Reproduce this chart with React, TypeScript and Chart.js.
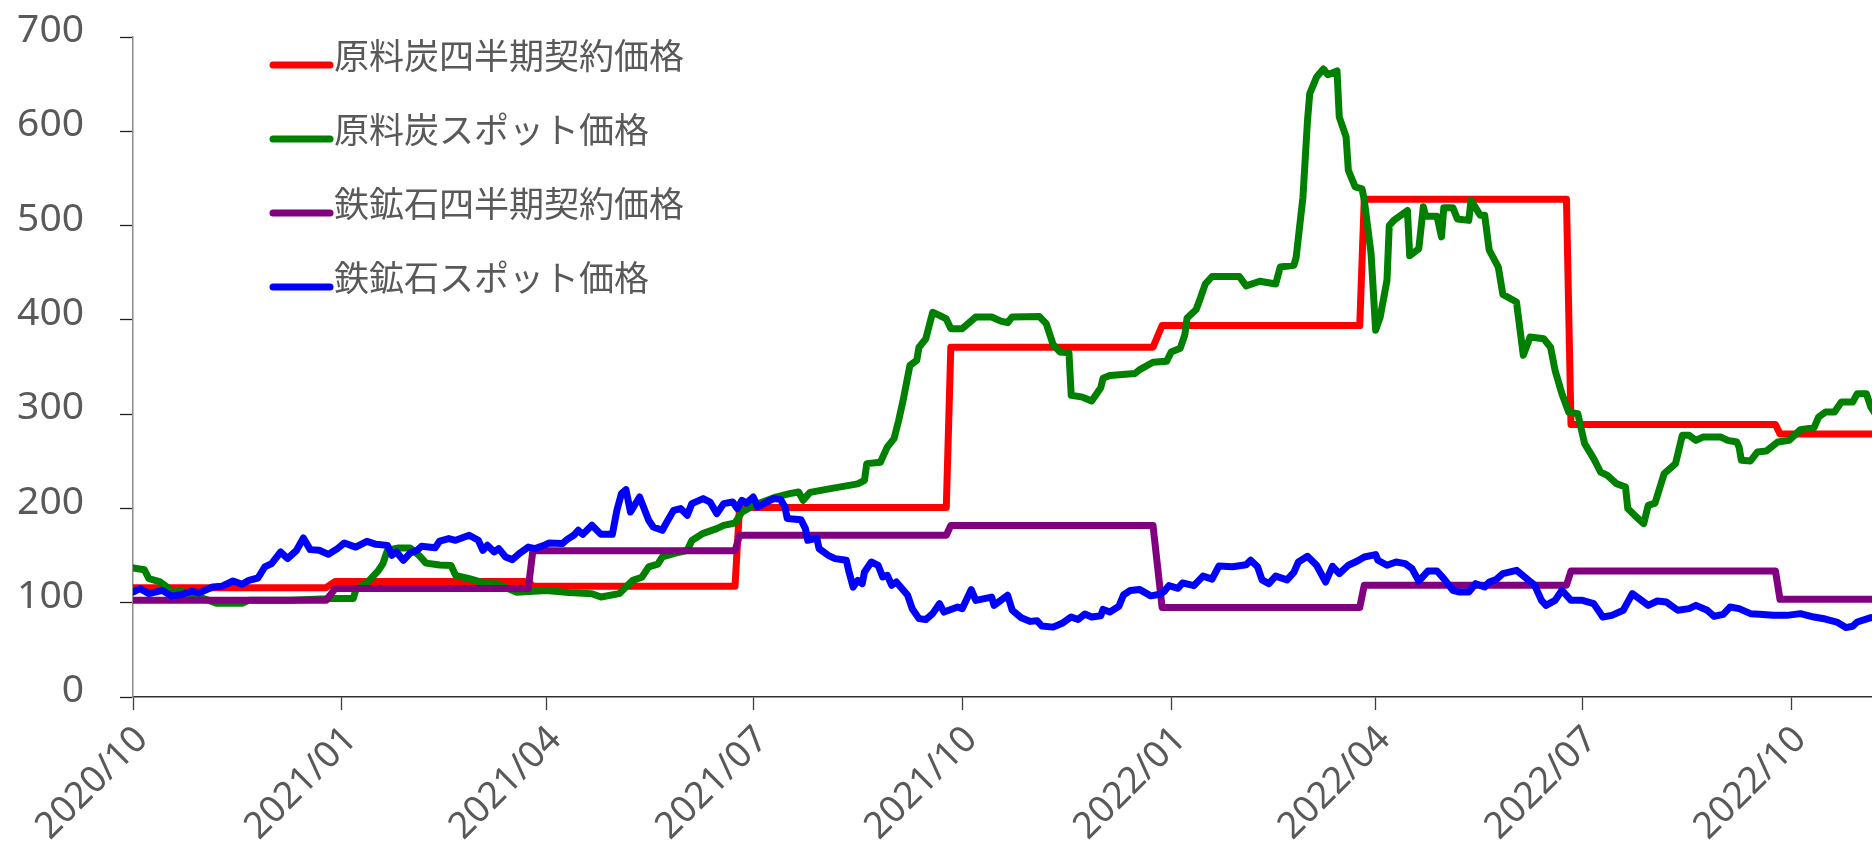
import React, { useEffect, useRef } from 'react';
import { Chart, registerables } from 'chart.js';

Chart.register(...registerables);

// ---------- data ----------
const seriesNames = ['原料炭四半期契約価格', '原料炭スポット価格', '鉄鉱石四半期契約価格', '鉄鉱石スポット価格'];
const seriesColors = ['#ff0000', '#008000', '#800080', '#0000ff'];

const xTickLabels = ['2020/10', '2021/01', '2021/04', '2021/07', '2021/10', '2022/01', '2022/04', '2022/07', '2022/10'];
const yTickValues = [0, 100, 200, 300, 400, 500, 600, 700];

const axisStart = '2020-10-01';
const axisEnd = '2022-11-05';

// quarterly contract prices: first and last day each price is plotted
const quarterStart = ['2020-10-01', '2020-12-29', '2021-03-26', '2021-06-25', '2021-09-26', '2021-12-28', '2022-03-27', '2022-06-26', '2022-09-26'];
const quarterEnd = ['2020-12-25', '2021-03-24', '2021-06-23', '2021-09-24', '2021-12-24', '2022-03-25', '2022-06-24', '2022-09-24', '2022-11-07'];
const cokingContract = [116, 122.5, 117.5, 201, 371, 394, 528, 289, 279];
const ironContract = [102.5, 115, 155, 171.5, 182, 95, 118.5, 133.6, 103.6];

// coking coal spot price
const cokingSpot: [string, number][] = [
  ['2020-10-01', 137], ['2020-10-06', 135], ['2020-10-08', 125.5], ['2020-10-13', 122], ['2020-10-16', 116.6],
  ['2020-10-18', 110], ['2020-10-21', 113], ['2020-10-28', 108], ['2020-11-07', 99.3], ['2020-11-18', 99.3],
  ['2020-11-21', 102.5], ['2020-12-09', 102.5], ['2020-12-23', 104], ['2020-12-30', 104.6], ['2021-01-06', 104.6],
  ['2021-01-07', 113], ['2021-01-13', 123.6], ['2021-01-17', 134], ['2021-01-19', 141.5], ['2021-01-21', 155.6],
  ['2021-01-26', 158], ['2021-01-31', 158], ['2021-02-04', 150], ['2021-02-07', 142], ['2021-02-13', 140],
  ['2021-02-18', 139.6], ['2021-02-20', 129], ['2021-02-26', 125.5], ['2021-03-06', 120], ['2021-03-10', 120],
  ['2021-03-19', 111], ['2021-04-01', 113], ['2021-04-11', 110.7], ['2021-04-21', 109.6], ['2021-04-25', 106],
  ['2021-05-03', 109.6], ['2021-05-09', 123.7], ['2021-05-13', 127], ['2021-05-16', 138], ['2021-05-20', 141],
  ['2021-05-22', 148.5], ['2021-05-27', 152], ['2021-06-02', 155.6], ['2021-06-04', 166], ['2021-06-09', 173.6],
  ['2021-06-15', 178.6], ['2021-06-18', 182], ['2021-06-23', 184.5], ['2021-06-26', 196], ['2021-07-01', 203],
  ['2021-07-11', 212], ['2021-07-17', 215.7], ['2021-07-21', 217.4], ['2021-07-23', 208.6], ['2021-07-26', 217],
  ['2021-08-04', 221], ['2021-08-16', 226], ['2021-08-19', 229.8], ['2021-08-20', 247.5], ['2021-08-26', 249],
  ['2021-08-29', 265], ['2021-09-01', 274], ['2021-09-03', 293], ['2021-09-05', 314.6], ['2021-09-08', 351.7],
  ['2021-09-11', 357], ['2021-09-12', 371], ['2021-09-15', 380], ['2021-09-18', 408], ['2021-09-21', 404.8],
  ['2021-09-24', 401], ['2021-09-26', 390.7], ['2021-10-01', 390.7], ['2021-10-07', 403], ['2021-10-14', 403],
  ['2021-10-18', 398.7], ['2021-10-21', 397], ['2021-10-23', 403], ['2021-11-04', 403.5], ['2021-11-07', 396],
  ['2021-11-10', 374], ['2021-11-13', 366], ['2021-11-17', 365], ['2021-11-18', 320], ['2021-11-23', 318],
  ['2021-11-27', 314], ['2021-12-01', 328], ['2021-12-02', 338], ['2021-12-05', 341], ['2021-12-16', 343],
  ['2021-12-18', 347], ['2021-12-24', 355], ['2021-12-30', 356], ['2022-01-01', 366], ['2022-01-05', 370],
  ['2022-01-07', 384], ['2022-01-08', 402], ['2022-01-12', 411], ['2022-01-14', 424], ['2022-01-16', 438],
  ['2022-01-19', 446], ['2022-01-31', 446], ['2022-02-03', 436], ['2022-02-09', 441], ['2022-02-16', 438],
  ['2022-02-18', 456], ['2022-02-24', 458], ['2022-02-25', 466], ['2022-02-28', 530], ['2022-03-02', 611],
  ['2022-03-03', 640], ['2022-03-06', 657.5], ['2022-03-09', 666], ['2022-03-11', 660], ['2022-03-15', 664],
  ['2022-03-16', 615], ['2022-03-19', 594], ['2022-03-20', 558.5], ['2022-03-23', 541], ['2022-03-26', 539],
  ['2022-03-27', 527], ['2022-03-30', 470], ['2022-04-01', 389], ['2022-04-03', 403], ['2022-04-06', 442],
  ['2022-04-07', 500], ['2022-04-09', 505.5], ['2022-04-15', 516], ['2022-04-16', 468], ['2022-04-20', 475.5],
  ['2022-04-22', 520], ['2022-04-23', 510], ['2022-04-28', 510], ['2022-04-30', 488], ['2022-05-01', 519],
  ['2022-05-05', 519], ['2022-05-07', 507], ['2022-05-12', 505.5], ['2022-05-13', 526.7], ['2022-05-17', 511],
  ['2022-05-19', 511], ['2022-05-21', 474], ['2022-05-25', 456], ['2022-05-27', 427], ['2022-06-02', 419],
  ['2022-06-05', 362.4], ['2022-06-08', 381.8], ['2022-06-14', 380], ['2022-06-17', 371], ['2022-06-19', 346.4],
  ['2022-06-22', 321.7], ['2022-06-25', 302], ['2022-06-29', 300.5], ['2022-07-02', 268.7], ['2022-07-06', 252.8],
  ['2022-07-09', 238.6], ['2022-07-12', 235], ['2022-07-16', 226.3], ['2022-07-20', 222.7], ['2022-07-21', 199.8],
  ['2022-07-24', 192.7], ['2022-07-28', 183.9], ['2022-07-30', 203.3], ['2022-08-02', 205.7], ['2022-08-06', 236.9],
  ['2022-08-11', 247.5], ['2022-08-14', 277.5], ['2022-08-17', 277.5], ['2022-08-20', 272.2], ['2022-08-23', 275.7],
  ['2022-08-31', 275.7], ['2022-09-03', 272.2], ['2022-09-07', 270.4], ['2022-09-08', 265], ['2022-09-09', 251],
  ['2022-09-13', 250.3], ['2022-09-16', 259.8], ['2022-09-20', 260.9], ['2022-09-25', 270.4], ['2022-09-30', 272.2],
  ['2022-10-05', 283.6], ['2022-10-11', 285.7], ['2022-10-13', 297], ['2022-10-16', 302.2], ['2022-10-20', 302.2],
  ['2022-10-23', 312.8], ['2022-10-28', 312.8], ['2022-10-30', 321.7], ['2022-11-03', 321.7], ['2022-11-05', 307.5],
  ['2022-11-07', 300],
];

// iron ore spot price
const ironSpot: [string, number][] = [
  ['2020-10-01', 111.3], ['2020-10-04', 115], ['2020-10-08', 109.6], ['2020-10-14', 113], ['2020-10-18', 107],
  ['2020-10-23', 108.9], ['2020-10-27', 112.4], ['2020-10-30', 110.3], ['2020-11-05', 116.6], ['2020-11-09', 117.4],
  ['2020-11-14', 123], ['2020-11-18', 119.5], ['2020-11-21', 123.7], ['2020-11-25', 126.2], ['2020-11-28', 137.9],
  ['2020-12-01', 141.5], ['2020-12-05', 153.8], ['2020-12-08', 146.8], ['2020-12-12', 155.6], ['2020-12-15', 168.6],
  ['2020-12-18', 156.3], ['2020-12-22', 155.6], ['2020-12-26', 151.3], ['2020-12-30', 157.4], ['2021-01-02', 163.3],
  ['2021-01-07', 159], ['2021-01-12', 165.1], ['2021-01-16', 161.9], ['2021-01-21', 160.8], ['2021-01-23', 150.3],
  ['2021-01-25', 153.8], ['2021-01-28', 145], ['2021-01-31', 152.7], ['2021-02-03', 155.6], ['2021-02-05', 159.8],
  ['2021-02-11', 158.4], ['2021-02-13', 165.4], ['2021-02-17', 168], ['2021-02-20', 166.2], ['2021-02-26', 171.5],
  ['2021-03-02', 166.2], ['2021-03-04', 155.6], ['2021-03-06', 160.9], ['2021-03-09', 153.8], ['2021-03-11', 157.4],
  ['2021-03-14', 148.5], ['2021-03-17', 145.7], ['2021-03-20', 152.1], ['2021-03-24', 159], ['2021-03-27', 157.4],
  ['2021-03-31', 160.9], ['2021-04-02', 163.3], ['2021-04-08', 162.7], ['2021-04-10', 166.9], ['2021-04-13', 171.5],
  ['2021-04-15', 176.8], ['2021-04-17', 172.5], ['2021-04-21', 182.1], ['2021-04-25', 172.5], ['2021-04-30', 172.5],
  ['2021-05-02', 198], ['2021-05-04', 215.7], ['2021-05-06', 219.9], ['2021-05-08', 196.2], ['2021-05-12', 212.1],
  ['2021-05-16', 187.4], ['2021-05-18', 180.3], ['2021-05-22', 176.8], ['2021-05-24', 185.6], ['2021-05-27', 198],
  ['2021-05-30', 199.8], ['2021-06-02', 192.7], ['2021-06-04', 205.1], ['2021-06-09', 210.4], ['2021-06-12', 206.8],
  ['2021-06-15', 194.5], ['2021-06-18', 205.1], ['2021-06-22', 206.8], ['2021-06-24', 199.8], ['2021-06-26', 208.6],
  ['2021-06-28', 205.7], ['2021-07-01', 212.1], ['2021-07-03', 201.5], ['2021-07-07', 206.8], ['2021-07-10', 210.4],
  ['2021-07-13', 209.6], ['2021-07-15', 201.5], ['2021-07-16', 189.2], ['2021-07-22', 188.1], ['2021-07-24', 178.6],
  ['2021-07-25', 166.2], ['2021-07-29', 168.6], ['2021-07-30', 157.4], ['2021-08-03', 150.3], ['2021-08-06', 146.8],
  ['2021-08-11', 145], ['2021-08-12', 134.4], ['2021-08-14', 116.6], ['2021-08-16', 123.7], ['2021-08-18', 120.2],
  ['2021-08-19', 132.6], ['2021-08-22', 143.2], ['2021-08-25', 139.7], ['2021-08-27', 127.3], ['2021-08-29', 129.1],
  ['2021-08-31', 118.5], ['2021-09-02', 122], ['2021-09-07', 107.9], ['2021-09-09', 93.7], ['2021-09-12', 83.1],
  ['2021-09-15', 82.1], ['2021-09-18', 88.4], ['2021-09-21', 99], ['2021-09-23', 90.1], ['2021-09-29', 95.4],
  ['2021-10-01', 93.7], ['2021-10-05', 113.9], ['2021-10-07', 102.5], ['2021-10-14', 106], ['2021-10-15', 97.2],
  ['2021-10-18', 102.5], ['2021-10-21', 107.9], ['2021-10-23', 92.2], ['2021-10-27', 84.1], ['2021-10-31', 80.2],
  ['2021-11-03', 80.9], ['2021-11-05', 75.3], ['2021-11-10', 74.1], ['2021-11-14', 78.2], ['2021-11-18', 84.9],
  ['2021-11-21', 82.2], ['2021-11-24', 88.1], ['2021-11-27', 84.9], ['2021-12-01', 86.1], ['2021-12-02', 92.9],
  ['2021-12-05', 90.1], ['2021-12-09', 96.2], ['2021-12-11', 108.2], ['2021-12-14', 113], ['2021-12-18', 114.1],
  ['2021-12-23', 107.3], ['2021-12-27', 108.9], ['2021-12-29', 112.1], ['2021-12-31', 118.1], ['2022-01-04', 115.3],
  ['2022-01-06', 121], ['2022-01-11', 118.1], ['2022-01-15', 128.2], ['2022-01-19', 125], ['2022-01-22', 138.9],
  ['2022-01-28', 138.2], ['2022-02-03', 140.2], ['2022-02-05', 145], ['2022-02-08', 138.2], ['2022-02-10', 124.2],
  ['2022-02-13', 120.2], ['2022-02-16', 128.2], ['2022-02-21', 124.2], ['2022-02-24', 132.2], ['2022-02-26', 143.2],
  ['2022-03-02', 149.2], ['2022-03-06', 139.7], ['2022-03-10', 122], ['2022-03-13', 138.6], ['2022-03-16', 130.9],
  ['2022-03-20', 139.7], ['2022-03-24', 144.2], ['2022-03-27', 148.5], ['2022-04-01', 151], ['2022-04-02', 145],
  ['2022-04-06', 139.7], ['2022-04-10', 143.2], ['2022-04-14', 141.5], ['2022-04-17', 136.2], ['2022-04-20', 123],
  ['2022-04-24', 133.6], ['2022-04-28', 133.6], ['2022-05-01', 125.5], ['2022-05-05', 113.2], ['2022-05-08', 111.3],
  ['2022-05-12', 111.3], ['2022-05-15', 120.2], ['2022-05-19', 116.6], ['2022-05-21', 122], ['2022-05-24', 124.5],
  ['2022-05-27', 130.9], ['2022-06-02', 134.4], ['2022-06-07', 124.5], ['2022-06-10', 118.5], ['2022-06-13', 102.5],
  ['2022-06-15', 97.2], ['2022-06-19', 102.5], ['2022-06-22', 113.2], ['2022-06-26', 102.5], ['2022-07-01', 102.5],
  ['2022-07-06', 99], ['2022-07-10', 84.8], ['2022-07-14', 86.6], ['2022-07-19', 92], ['2022-07-23', 109.6],
  ['2022-07-26', 104.3], ['2022-07-30', 97.2], ['2022-08-03', 101.8], ['2022-08-07', 100.7], ['2022-08-12', 92],
  ['2022-08-17', 93.7], ['2022-08-20', 97.2], ['2022-08-25', 92], ['2022-08-28', 85.6], ['2022-09-01', 87.7],
  ['2022-09-04', 95.4], ['2022-09-08', 93.7], ['2022-09-13', 88.4], ['2022-09-17', 87.7], ['2022-09-23', 86.6],
  ['2022-09-29', 86.6], ['2022-10-05', 88.4], ['2022-10-11', 84.8], ['2022-10-16', 82.7], ['2022-10-21', 79.5],
  ['2022-10-25', 73.6], ['2022-10-28', 75], ['2022-10-30', 79.5], ['2022-11-05', 84.2], ['2022-11-07', 84],
];

// ---------- helpers ----------
const DAY = 86400000;
const t0 = Date.parse(axisStart + 'T00:00:00Z');
const dayOf = (s: string) => (Date.parse(s + 'T00:00:00Z') - t0) / DAY;
const tickDays = xTickLabels.map((l) => dayOf(l.replace('/', '-') + '-01'));

const quarterPoints = (vals: number[]) => {
  const pts: { x: number; y: number }[] = [];
  vals.forEach((v, i) => {
    pts.push({ x: dayOf(quarterStart[i]), y: v });
    pts.push({ x: dayOf(quarterEnd[i]), y: v });
  });
  return pts;
};
const spotPoints = (arr: [string, number][]) => arr.map(([d, v]) => ({ x: dayOf(d), y: v }));

const FONT_FAMILY = '"Noto Sans", "DejaVu Sans", sans-serif';
const LABEL_COLOR = '#595959';

const legendPlugin = {
  id: 'customLegend',
  afterDraw(chart: any) {
    const ctx = chart.ctx;
    ctx.save();
    const rowY0 = 65;
    const rowGap = 74;
    seriesNames.forEach((name, i) => {
      const y = rowY0 + i * rowGap;
      ctx.strokeStyle = seriesColors[i];
      ctx.lineWidth = 7;
      ctx.lineCap = 'round';
      ctx.beginPath();
      ctx.moveTo(273, y);
      ctx.lineTo(330, y);
      ctx.stroke();
      ctx.fillStyle = LABEL_COLOR;
      ctx.font = '35px "Noto Sans CJK JP", "Noto Sans", sans-serif';
      ctx.textAlign = 'left';
      ctx.textBaseline = 'middle';
      ctx.fillText(name, 334, y - 9);
    });
    ctx.restore();
  },
};

export default function App() {
  const canvasRef = useRef<HTMLCanvasElement | null>(null);

  useEffect(() => {
    document.body.style.margin = '0';
    const canvas = canvasRef.current;
    if (!canvas) return;

    const datasets = [
      { label: seriesNames[0], data: quarterPoints(cokingContract), borderColor: seriesColors[0], borderWidth: 7, order: 4 },
      { label: seriesNames[1], data: spotPoints(cokingSpot), borderColor: seriesColors[1], borderWidth: 7, order: 3 },
      { label: seriesNames[2], data: quarterPoints(ironContract), borderColor: seriesColors[2], borderWidth: 7, order: 2 },
      { label: seriesNames[3], data: spotPoints(ironSpot), borderColor: seriesColors[3], borderWidth: 7, order: 1 },
    ].map((d) => ({
      ...d,
      backgroundColor: d.borderColor,
      pointRadius: 0,
      pointHoverRadius: 0,
      tension: 0,
      fill: false,
      borderJoinStyle: 'round' as const,
      borderCapStyle: 'round' as const,
    }));

    const chart = new Chart(canvas, {
      type: 'line',
      data: { datasets },
      options: {
        responsive: false,
        animation: false,
        devicePixelRatio: 1,
        layout: { padding: { top: 37, left: 0, right: 0, bottom: 0 } },
        plugins: {
          legend: { display: false },
          tooltip: { enabled: false },
        },
        scales: {
          x: {
            type: 'linear',
            min: 0,
            max: dayOf(axisEnd) + 0.5,
            afterBuildTicks: (scale: any) => {
              scale.ticks = tickDays.map((v) => ({ value: v }));
            },
            afterFit: (scale: any) => {
              scale.height = 153;
              scale.paddingLeft = 0;
              scale.paddingRight = 0;
            },
            ticks: {
              autoSkip: false,
              minRotation: 45,
              maxRotation: 45,
              padding: 8,
              labelOffset: 9,
              color: LABEL_COLOR,
              font: { family: FONT_FAMILY, size: 37 },
              callback: (v: any) => {
                const i = tickDays.indexOf(Number(v));
                return i >= 0 ? xTickLabels[i] : '';
              },
            },
            grid: {
              display: true,
              drawOnChartArea: false,
              drawTicks: true,
              tickLength: 13,
              tickColor: '#404040',
              tickWidth: 1.3,
            },
            border: { display: true, color: '#303030', width: 1.5 },
          },
          y: {
            type: 'linear',
            min: 0,
            max: 700,
            afterBuildTicks: (scale: any) => {
              scale.ticks = yTickValues.map((v) => ({ value: v }));
            },
            afterFit: (scale: any) => {
              scale.width = 133;
              scale.paddingTop = 0;
              scale.paddingBottom = 0;
            },
            ticks: {
              padding: 36,
              labelOffset: -6,
              color: LABEL_COLOR,
              font: { family: FONT_FAMILY, size: 39 },
              callback: (v: any) => String(v),
            },
            grid: {
              display: true,
              drawOnChartArea: false,
              drawTicks: true,
              tickLength: 13,
              tickColor: '#202020',
              tickWidth: 1.3,
            },
            border: { display: true, color: '#8c8c8c', width: 1.5 },
          },
        },
      },
      plugins: [legendPlugin],
    });

    return () => {
      chart.destroy();
    };
  }, []);

  return (
    <div style={{ width: 1872, height: 850, background: '#ffffff' }}>
      <canvas ref={canvasRef} width={1872} height={850} style={{ display: 'block' }} />
    </div>
  );
}
